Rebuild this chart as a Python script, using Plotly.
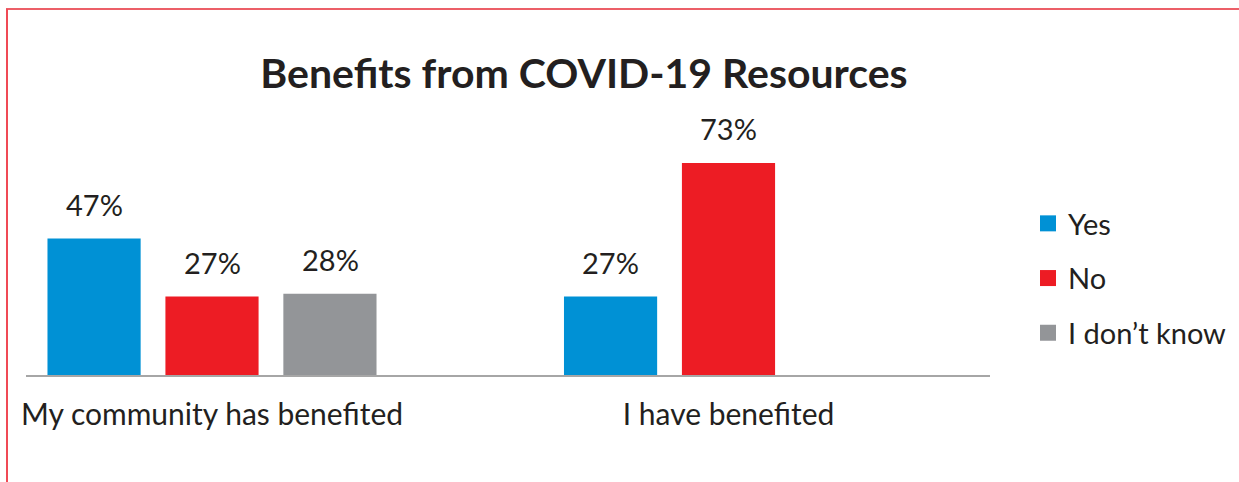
import plotly.graph_objects as go

categories = ["My community has benefited", "I have benefited"]
series_names = ["Yes", "No", "I don\u2019t know"]
yes_values = [47, 27]
no_values = [27, 73]
dk_values = [28]
colors = ["#0091d5", "#ed1c24", "#939598"]

W, H = 1239, 482
ML, MR, MT, MB = 26, 249, 110, 107
FONT = "Lato"
TXT = "#231f20"

fig = go.Figure()
series = [yes_values, no_values, dk_values]
for name, vals, col in zip(series_names, series, colors):
    fig.add_trace(go.Bar(
        x=categories[:len(vals)], y=vals, name=name,
        marker=dict(color=col, line=dict(width=0)),
        showlegend=False,
    ))
    fig.add_trace(go.Scatter(
        x=[None], y=[None], mode="markers", name=name,
        marker=dict(symbol="square", size=19, color=col),
        legendgroup=name, showlegend=True,
    ))

# value labels
slot_px = 118
for i, vals in enumerate(series):
    for cat, v in zip(categories, vals):
        fig.add_annotation(
            x=cat, y=v, text=f"{v}%", showarrow=False,
            xshift=(i - 1) * slot_px, yshift=15, yanchor="bottom",
            font=dict(family=FONT, size=29, color=TXT),
        )

pw = W - ML - MR
ph = H - MT - MB
def px_x(p):
    return (p - ML) / pw
def px_y(p):
    return (H - MB - p) / ph

border = "#ec5f68"
fig.add_shape(type="line", xref="paper", yref="paper",
              x0=px_x(6), x1=px_x(1240), y0=px_y(9), y1=px_y(9),
              line=dict(color=border, width=2))
fig.add_shape(type="line", xref="paper", yref="paper",
              x0=px_x(7), x1=px_x(7), y0=px_y(9), y1=px_y(483),
              line=dict(color="#f04a55", width=2))

fig.update_layout(
    width=W, height=H,
    margin=dict(l=ML, r=MR, t=MT, b=MB, autoexpand=False),
    paper_bgcolor="white", plot_bgcolor="white",
    barmode="group", bargap=0.315, bargroupgap=0.21,
    title=dict(text="<b>Benefits from COVID-19 Resources</b>",
               x=584 / W, xanchor="center", xref="container",
               y=1 - 74 / H, yanchor="middle", yref="container",
               font=dict(family=FONT, size=41, color=TXT)),
    font=dict(family=FONT, color=TXT),
    legend=dict(x=px_x(1028), y=px_y(198), xanchor="left", yanchor="top",
                font=dict(family=FONT, size=29, color=TXT),
                tracegroupgap=14, traceorder="grouped",
                bgcolor="rgba(0,0,0,0)"),
    xaxis=dict(type="category", range=[(26 - 212) / 516.5, (990 - 212) / 516.5],
               showline=True, linecolor="#a6a6a6", linewidth=2,
               ticks="", tickfont=dict(family=FONT, size=30, color=TXT),
               ticklabelstandoff=12, showgrid=False, zeroline=False),
    yaxis=dict(range=[0, ph / 2.904], visible=False, showgrid=False, zeroline=False),
)

fig.write_html("out.html")
